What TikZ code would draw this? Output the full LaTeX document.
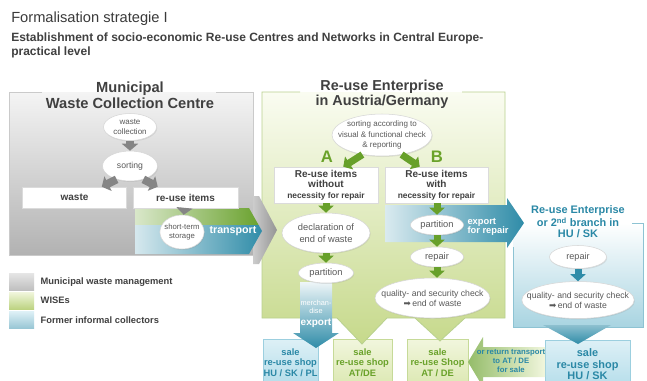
\documentclass[tikz,border=0pt]{standalone}
\usepackage{fontspec}
\setmainfont{Liberation Sans}
\newfontfamily\symfont{DejaVu Sans}
\usetikzlibrary{shapes.geometric,arrows.meta,calc,shadows}
\definecolor{txtgray}{HTML}{404040}
\definecolor{elltxt}{HTML}{595959}
\definecolor{grayT}{HTML}{F4F4F4}
\definecolor{grayB}{HTML}{B2B2B2}
\definecolor{grayBd}{HTML}{CACACA}
\definecolor{greenT}{HTML}{FAFCF1}
\definecolor{greenB}{HTML}{C6D98B}
\definecolor{greenBd}{HTML}{B9D18F}
\definecolor{blueB}{HTML}{A8D4E1}
\definecolor{blueBd}{HTML}{8DC3D3}
\definecolor{gcol}{HTML}{67A02A}
\definecolor{gtxt}{HTML}{6AA22A}
\definecolor{ttxt}{HTML}{2A88A6}
\definecolor{grayar}{HTML}{858585}
\definecolor{tealar}{HTML}{2F8CA8}
\definecolor{salegT}{HTML}{F1F6DD}
\definecolor{salegB}{HTML}{DCE8B2}
\definecolor{salegBd}{HTML}{C6DA98}
\definecolor{salebT}{HTML}{DDF0F6}
\definecolor{salebB}{HTML}{B4DDEA}
\definecolor{salebBd}{HTML}{9CCFDF}
\begin{document}
\begin{tikzpicture}[x=0.75pt,y=-0.75pt,
  ell/.style={ellipse, draw=black!16, fill=white, inner sep=0pt, align=center, text=elltxt,
    drop shadow={opacity=0.18,shadow xshift=0.5pt,shadow yshift=-0.7pt}},
  wbox/.style={rectangle, draw=black!14, fill=white, inner sep=0pt, align=center, text=txtgray,
    drop shadow={opacity=0.18,shadow xshift=0.6pt,shadow yshift=-0.8pt}},
  gar/.style={draw=gcol, line width=5.25pt, -{Triangle[width=11.25pt,length=5.25pt]}},
  grar/.style={draw=grayar, line width=6pt, -{Triangle[width=12pt,length=5.25pt]}},
  tar/.style={draw=tealar, line width=5.25pt, -{Triangle[width=11.25pt,length=5.25pt]}},
  saleg/.style={rectangle, inner sep=0pt, align=center, text=gtxt, top color=salegT, bottom color=salegB, draw=salegBd},
  saleb/.style={rectangle, inner sep=0pt, align=center, text=ttxt, top color=salebT, bottom color=salebB, draw=salebBd},
  legtxt/.style={anchor=west, text=txtgray, font=\bfseries\fontsize{7}{8}\selectfont},
  swatch/.style={rectangle, inner sep=0pt, minimum width=18.75pt, minimum height=12.75pt}
]
\fill[white] (0,0) rectangle (647,380);
\useasboundingbox (0,0) rectangle (647,380);

% ---------- titles
\node[anchor=west, inner sep=0pt, text=txtgray!90!black, font=\fontsize{11}{12}\selectfont] (title) at (11,19) {Formalisation strategie I};
\node[anchor=north west, inner sep=0pt, align=left, text=txtgray, font=\bfseries\fontsize{9}{10.5}\selectfont] (subtitle) at (11,33)
  {Establishment of socio-economic Re-use Centres and Networks in Central Europe-\\practical level};

% ---------- sale boxes (bottom row)
\node[saleb, minimum width=41.25pt, minimum height=34.5pt, anchor=north, font=\bfseries\fontsize{7}{7.9}\selectfont] (sale1) at (290.5,339) {sale\\re-use shop\\HU / SK / PL};
\node[saleg, minimum width=44.25pt, minimum height=34.5pt, anchor=north, font=\bfseries\fontsize{7}{7.9}\selectfont] (sale2) at (362.5,339) {sale\\re-use shop\\AT/DE};
\node[saleg, minimum width=45.75pt, minimum height=34.5pt, anchor=north, font=\bfseries\fontsize{7}{7.9}\selectfont] (sale3) at (437.5,339) {sale\\re-use Shop\\AT / DE};
\node[saleb, minimum width=63.75pt, minimum height=36pt, anchor=north, font=\bfseries\fontsize{8.2}{8.4}\selectfont] (sale4) at (587.5,340) {sale\\re-use shop\\HU / SK};

% ---------- municipal (gray) container
\shade[top color=grayT, bottom color=grayB] (9,92) rectangle (253,255);
\draw[grayBd, line width=0.6pt] (42,92) -- (9,92) -- (9,255) -- (253,255) -- (253,92) -- (216,92);
\node[text=txtgray, align=center, font=\bfseries\fontsize{11}{12}\selectfont] (mtitle) at (130,95) {Municipal\\Waste Collection Centre};

% ---------- green container
\shade[top color=greenT, bottom color=greenB] (262,92) -- (505,92) -- (505,318) -- (465,318) -- (440,341) -- (415,318) -- (387,318) -- (362,344) -- (337,318) -- (262,318) -- cycle;
\draw[greenBd, line width=0.6pt] (300,92) -- (262,92) -- (262,318) -- (337,318) -- (362,344) -- (387,318) -- (415,318) -- (440,341) -- (465,318) -- (505,318) -- (505,92) -- (462,92);
\node[text=txtgray, align=center, font=\bfseries\fontsize{10.8}{11.3}\selectfont] (gtitle) at (382,94.5) {Re-use Enterprise\\in Austria/Germany};

% gray chevron between gray and green container
\shade[left color=black!20, right color=black!42] (253,196) -- (259,196) -- (277,230) -- (259,264) -- (253,264) -- cycle;

% ---------- blue container
\shade[top color=white, bottom color=blueB] (513,223) rectangle (643,327);
\draw[blueBd, line width=0.6pt] (632,223) -- (643,223) -- (643,327) -- (513,327) -- (513,247);
\shade[top color=tealar!55, bottom color=tealar] (543,325) -- (611,325) -- (578,344) -- cycle;
\node[text=ttxt, align=center, font=\bfseries\fontsize{8.2}{8.3}\selectfont] (btitle) at (578,222) {Re-use Enterprise\\or 2\textsuperscript{nd} branch in\\HU / SK};

% ---------- transport band
\begin{scope}
  \clip (135,208) -- (249,208) -- (262,231) -- (249,254) -- (135,254) -- cycle;
  \shade[left color=gcol!25, right color=gcol] (135,208) rectangle (263,225);
  \shade[left color=tealar!20, right color=tealar] (135,225) rectangle (263,254);
\end{scope}
\node[text=white, font=\bfseries\fontsize{8}{9}\selectfont] (transp) at (233,231) {transport};

% ---------- export for repair band
\shade[left color=tealar!18, right color=tealar] (385,205) -- (507,205) -- (507,198) -- (524,223) -- (507,248) -- (507,242) -- (385,242) -- cycle;
\node[text=white, align=left, font=\bfseries\fontsize{7}{7.2}\selectfont] (exrep) at (488,227) {export\\for repair};

% ---------- merchandise export band
\shade[top color=tealar!8, bottom color=tealar] (300,282) -- (332,282) -- (332,333) -- (339,333) -- (316,348) -- (293,333) -- (300,333) -- cycle;
\node[text=white, align=center, font=\fontsize{5.5}{6.5}\selectfont] (merch) at (316,307) {merchan-\\dise};
\node[text=white, font=\bfseries\fontsize{7.5}{8}\selectfont] (mexp) at (316,323) {export};

% ---------- return arrow
\shade[left color=gcol!70, right color=salegT] (545,347) -- (483,347) -- (483,337) -- (468,362) -- (483,387) -- (483,377) -- (545,377) -- cycle;
\node[text=ttxt, align=center, font=\bfseries\fontsize{5.8}{6.4}\selectfont] (ret) at (511,361) {or return transport\\to AT / DE\\for sale};

% ---------- municipal flow
\node[ell, minimum width=39.75pt, minimum height=20.25pt, font=\fontsize{6}{7.5}\selectfont] (wc) at (130,127) {waste\\collection};
\node[ell, minimum width=41.25pt, minimum height=22.5pt, font=\fontsize{6.5}{7.5}\selectfont] (sort) at (130,166) {sorting};
\node[wbox, minimum width=78pt, minimum height=15.75pt, font=\bfseries\fontsize{7.5}{8}\selectfont] (waste) at (74.5,197.5) {waste};
\node[wbox, minimum width=78.75pt, minimum height=15.75pt, font=\bfseries\fontsize{7.5}{8}\selectfont] (reuse) at (185.5,197.5) {re-use items};
\node[ell, minimum width=33pt, minimum height=25.5pt, inner xsep=-1.5pt, font=\fontsize{5.8}{6.8}\selectfont] (storage) at (182,232) {short-term\\storage};

\draw[grar] (wc) -- (sort);
\draw[grar] (sort.225) -- ($(waste.north east)+(-25,0)$);
\draw[grar] (sort.315) -- ($(reuse.north west)+(25,0)$);
\draw[grar] (reuse) -- (storage);

% ---------- green flow
\node[ell, minimum width=75pt, minimum height=31.5pt, inner xsep=-8pt, font=\fontsize{6}{8}\selectfont] (sortG) at (382,135) {sorting according to\\visual \& functional check\\\& reporting};
\node[text=gtxt, font=\bfseries\fontsize{12.5}{13}\selectfont] (lA) at (327,157) {A};
\node[text=gtxt, font=\bfseries\fontsize{12.5}{13}\selectfont] (lB) at (437,157) {B};
\node[wbox, minimum width=78pt, minimum height=27pt, font=\bfseries\fontsize{7.5}{7.8}\selectfont] (boxA) at (326,185) {Re-use items\\without\\{\fontsize{6.3}{7}\selectfont necessity for repair}};
\node[wbox, minimum width=77.25pt, minimum height=27pt, font=\bfseries\fontsize{7.5}{7.8}\selectfont] (boxB) at (436.5,185) {Re-use items\\with\\{\fontsize{6.3}{7}\selectfont necessity for repair}};

\node[ell, minimum width=66pt, minimum height=30pt, font=\fontsize{7}{9}\selectfont] (decl) at (326,233) {declaration of\\end of waste};
\node[ell, minimum width=41.25pt, minimum height=15pt, font=\fontsize{7}{8}\selectfont] (partA) at (326,273) {partition};
\node[ell, minimum width=39.75pt, minimum height=15pt, font=\fontsize{7}{8}\selectfont] (partB) at (437,225) {partition};
\node[ell, minimum width=39.75pt, minimum height=15pt, font=\fontsize{7}{8}\selectfont] (repB) at (437,257) {repair};
\node[ell, minimum width=86.25pt, minimum height=30pt, inner xsep=-8pt, font=\fontsize{6.5}{7.5}\selectfont] (qualB) at (432.5,298) {quality- and security check\\{\symfont ➡}\,end of waste};

\draw[gar] (sortG.225) -- ($(boxA.north east)+(-35,0)$);
\draw[gar] (sortG.315) -- ($(boxB.north west)+(35,0)$);
\draw[gar] (boxA) -- (decl);
\draw[gar] (decl) -- (partA);
\draw[gar] (boxB.south -| partB) -- (partB);
\draw[gar] (partB) -- (repB);
\draw[gar] (repB) -- (repB |- qualB.north);

% ---------- blue flow
\node[ell, minimum width=42.75pt, minimum height=17.25pt, font=\fontsize{6.8}{8}\selectfont] (repH) at (578,257) {repair};
\node[ell, minimum width=84pt, minimum height=27.75pt, inner xsep=-8.5pt, font=\fontsize{6.5}{7.5}\selectfont] (qualH) at (578,300) {quality- and security check\\{\symfont ➡}\,end of waste};
\draw[tar] (repH) -- (qualH);

% ---------- legend
\node[swatch, top color=black!10, bottom color=black!25] (sw1) at (21.5,281.5) {};
\node[swatch, top color=salegT, bottom color=greenB!90!gcol] (sw2) at (21.5,300.5) {};
\node[swatch, top color=salebT, bottom color=tealar!50] (sw3) at (21.5,320) {};
\node[legtxt] (lg1) at (36,282) {Municipal waste management};
\node[legtxt] (lg2) at (36,300.5) {WISEs};
\node[legtxt] (lg3) at (36,320) {Former informal collectors};
\end{tikzpicture}
\end{document}
